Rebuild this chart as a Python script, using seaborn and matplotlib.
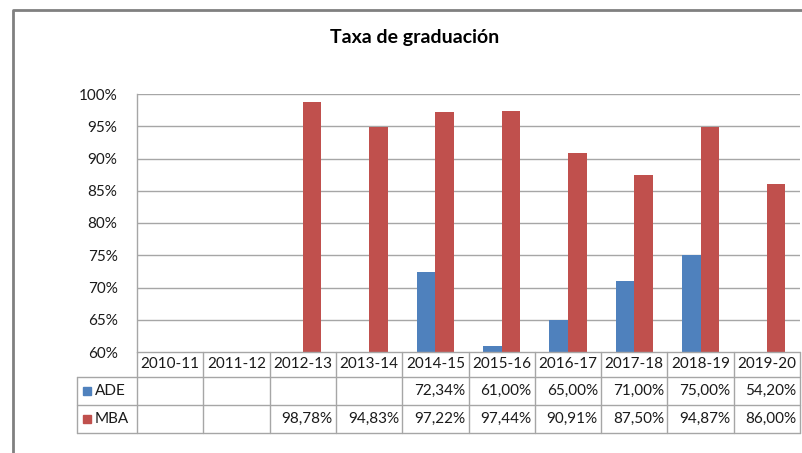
import numpy as np
import pandas as pd
import matplotlib
matplotlib.use("Agg")
import matplotlib.pyplot as plt
from matplotlib.patches import Rectangle
import matplotlib.transforms as mtransforms
import seaborn as sns

# data
cursos = ["2010-11", "2011-12", "2012-13", "2013-14", "2014-15",
          "2015-16", "2016-17", "2017-18", "2018-19", "2019-20"]
ade = [np.nan, np.nan, np.nan, np.nan, 0.7234, 0.61, 0.65, 0.71, 0.75, 0.542]
mba = [np.nan, np.nan, 0.9878, 0.9483, 0.9722, 0.9744, 0.9091, 0.875, 0.9487, 0.86]
series = ["ADE", "MBA"]
colores = {"ADE": "#4F81BD", "MBA": "#C0504D"}
yticks = [0.60, 0.65, 0.70, 0.75, 0.80, 0.85, 0.90, 0.95, 1.00]

df = pd.DataFrame({
    "curso": cursos * 2,
    "serie": ["ADE"] * len(cursos) + ["MBA"] * len(cursos),
    "valor": ade + mba,
})

sns.set_theme(style="white")
plt.rcParams["font.family"] = ["Lato", "DejaVu Sans"]
txt = "#1a1a1a"
linea = "#A6A6A6"

fig = plt.figure(figsize=(8.02, 4.53), dpi=100)
W, H = 802, 453
ax = fig.add_axes([137 / W, 1 - 352 / H, (800 - 137) / W, (352 - 94) / H])

sns.barplot(data=df, x="curso", y="valor", hue="serie", order=cursos,
            hue_order=series, palette=colores, width=0.56, gap=0,
            saturation=1, legend=False, ax=ax, zorder=3, linewidth=0)

ax.set_ylim(0.6, 1.0)
ax.set_xlim(-0.5, len(cursos) - 0.5)
ax.set_yticks(yticks)
ax.set_yticklabels([f"{int(round(v * 100))}%" for v in yticks], fontsize=11, color=txt)
ax.tick_params(axis="y", length=0, pad=14)
ax.set_xticks([])
ax.set_xlabel("")
ax.set_ylabel("")
for s in ["top", "right", "bottom"]:
    ax.spines[s].set_visible(False)
ax.spines["left"].set_color(linea)
ax.spines["left"].set_linewidth(1)
for v in yticks[1:]:
    ax.axhline(v, color=linea, lw=1, zorder=1)

# data table below the plot
px = mtransforms.blended_transform_factory(ax.transData, fig.transFigure)
ffig = fig.transFigure
def fy(p):
    return 1 - p / H
rows_y = [352, 377, 405, 433]
for i, y in enumerate(rows_y):
    x0 = 137 / W if i == 0 else 77 / W
    fig.add_artist(plt.Line2D([x0, 800 / W], [fy(y), fy(y)], color=linea, lw=1, transform=ffig))
for k in range(len(cursos) + 1):
    xb = k - 0.5
    fig.add_artist(plt.Line2D([xb, xb], [fy(352), fy(433)], color=linea, lw=1, transform=px))
fig.add_artist(plt.Line2D([77 / W, 77 / W], [fy(377), fy(433)], color=linea, lw=1, transform=ffig))

for i, c in enumerate(cursos):
    fig.text(i, fy(364.5), c, transform=px, ha="center", va="center", fontsize=11, color=txt)

def pct(v):
    return f"{v * 100:.2f}%".replace(".", ",")

for r, (nombre, vals) in enumerate([("ADE", ade), ("MBA", mba)]):
    yc = fy([391, 419][r])
    fig.add_artist(Rectangle((83 / W, yc - 4 / H), 8 / W, 8 / H, color=colores[nombre], transform=ffig))
    fig.text(95 / W, yc, nombre, ha="left", va="center", fontsize=11, color=txt)
    for i, v in enumerate(vals):
        if not np.isnan(v):
            fig.text(i + 0.45, yc, pct(v), transform=px, ha="right", va="center",
                     fontsize=11, color=txt)

# chart border and title
fig.add_artist(plt.Line2D([13 / W, 13 / W, 1.0], [0, fy(10), fy(10)], color="#808080", lw=2, transform=ffig))
fig.text(415 / W, fy(38), "Taxa de graduación", ha="center", va="center",
         fontsize=14, fontweight="bold", color="#000000")

fig.savefig("out.png", dpi=100)
